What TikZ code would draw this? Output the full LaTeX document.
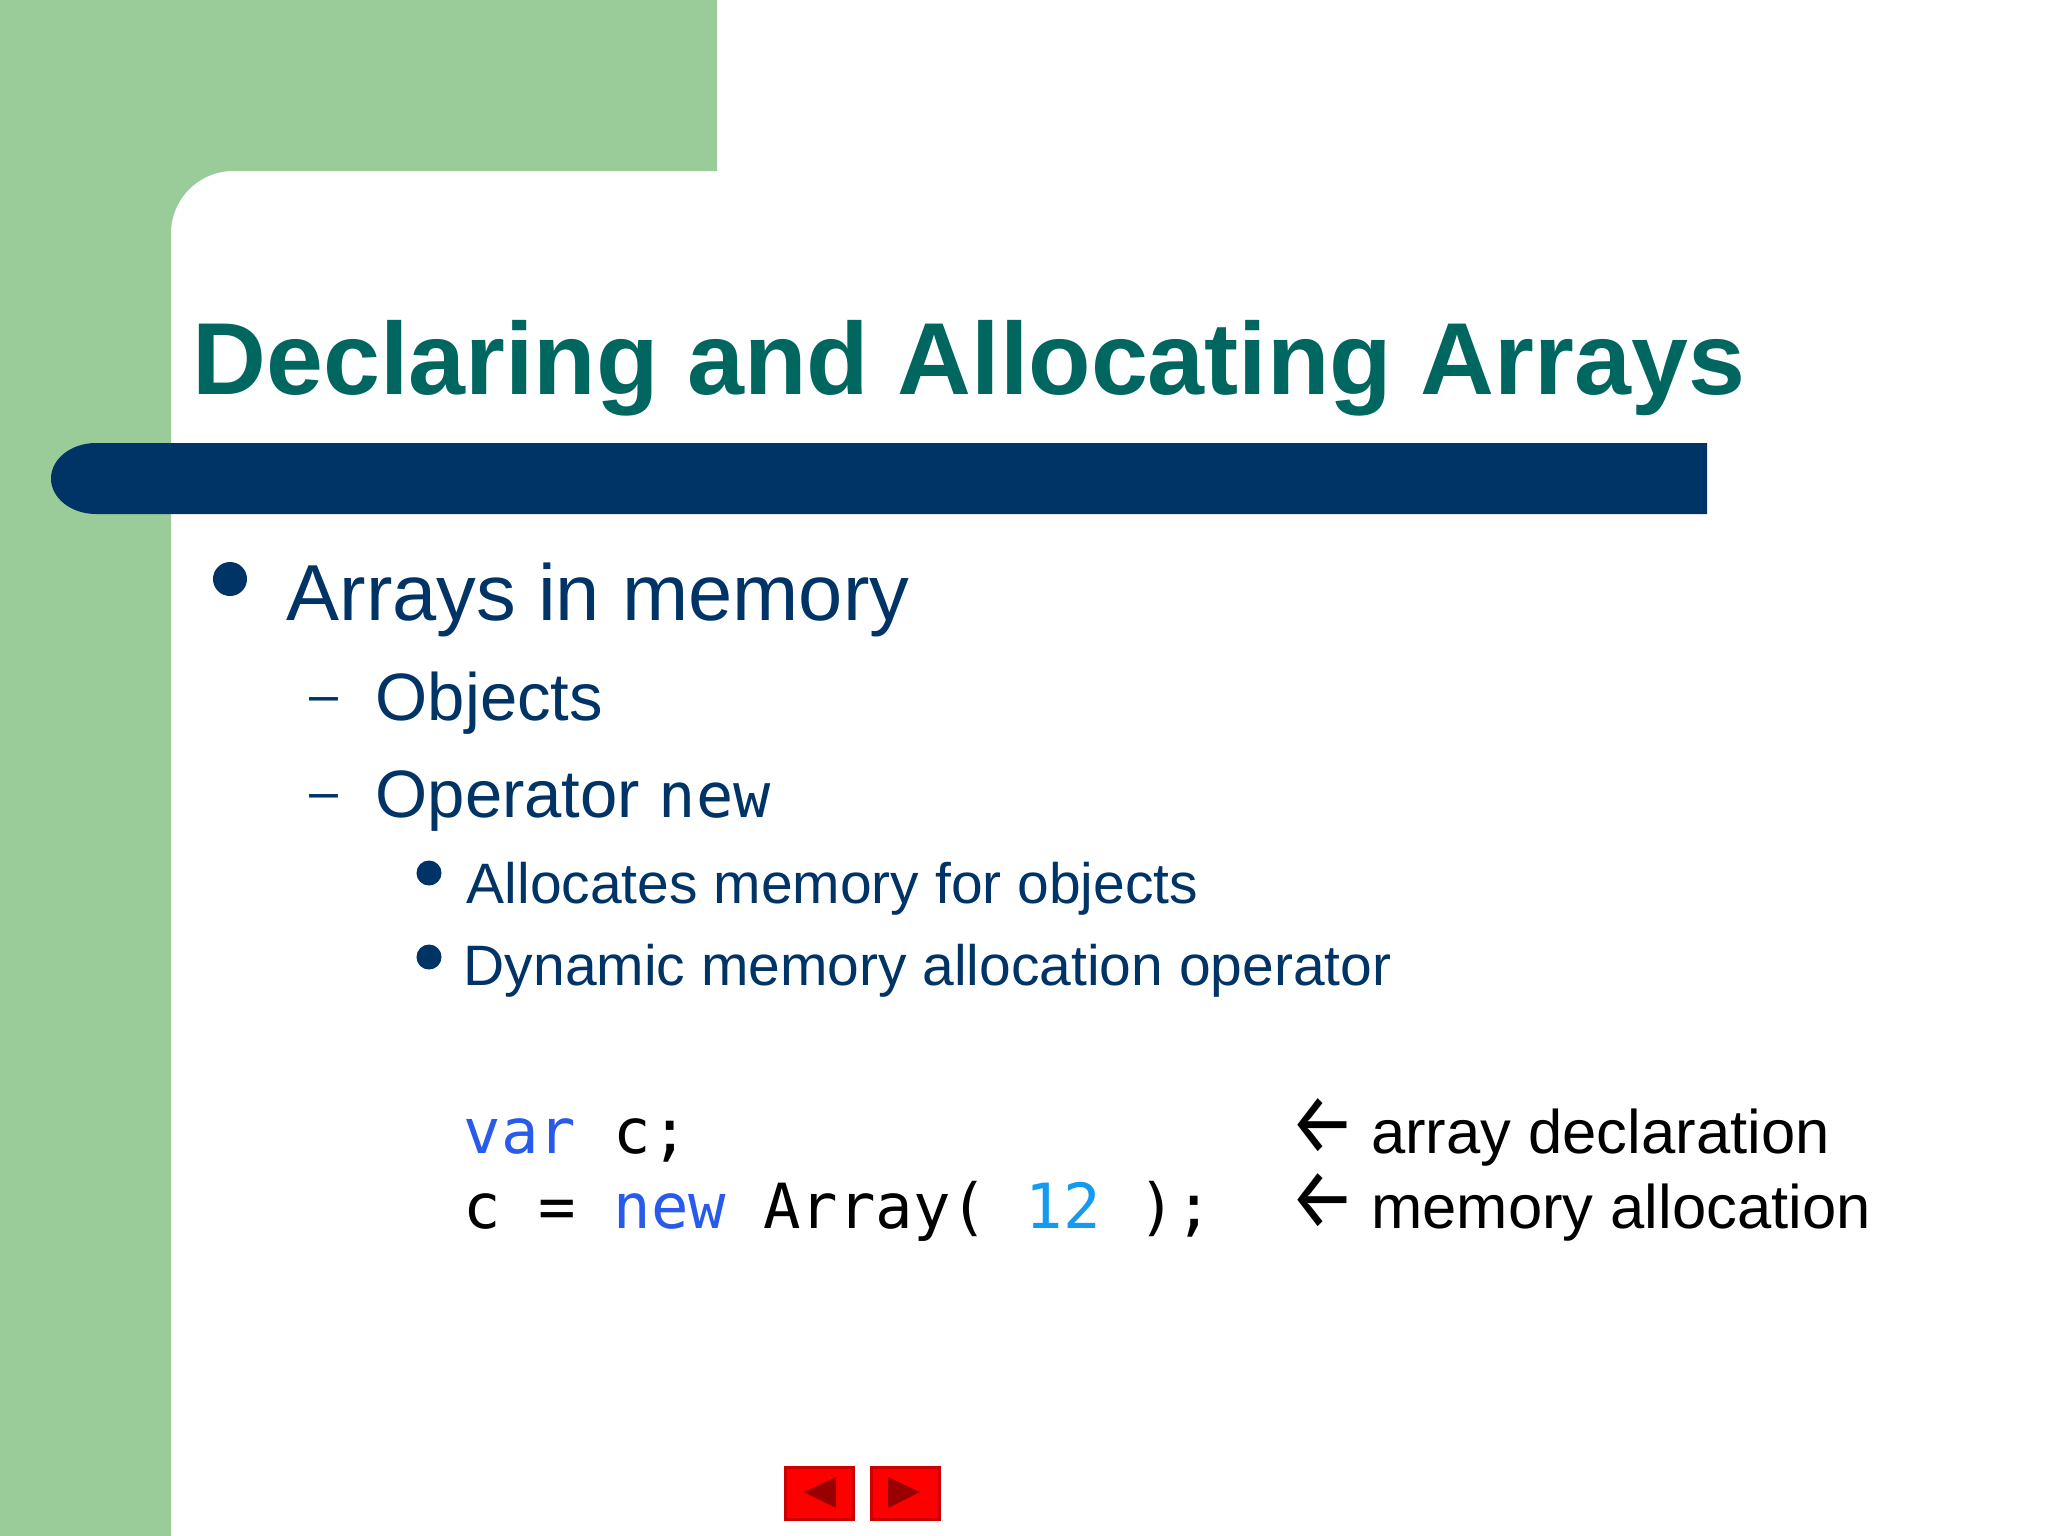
\documentclass[tikz,border=0pt]{standalone}
\usepackage{fontspec}
\setmainfont{Liberation Sans}
\newfontfamily\codefont{DejaVu Sans Mono}
\newfontfamily\arrowfont{Fira Sans}
\newcommand{\notearrow}{{\arrowfont\scalebox{1.2}[1.4]{←}}\hspace{-0.02cm}}
\definecolor{slidegreen}{HTML}{99CC99}
\definecolor{barnavy}{HTML}{003366}
\definecolor{titleteal}{HTML}{006660}
\definecolor{textnavy}{HTML}{003366}
\definecolor{codeblue}{RGB}{40,90,235}
\definecolor{codenum}{RGB}{20,155,240}
\definecolor{navred}{HTML}{FF0000}
\definecolor{navdark}{HTML}{990000}
\definecolor{navedge}{HTML}{CC0000}
\begin{document}
\begin{tikzpicture}[x=0.01cm,y=-0.01cm,
	txt/.style={anchor=base west,inner sep=0pt,text=textnavy},
	titletext/.style={txt,text=titleteal,font=\fontsize{29.1}{34}\selectfont\bfseries},
	lvlone/.style={txt,font=\fontsize{22.6}{27}\selectfont},
	lvltwo/.style={txt,font=\fontsize{19.06}{23}\selectfont},
	lvlthree/.style={txt,font=\fontsize{16.2}{20}\selectfont},
	dashmark/.style={txt,font=\fontsize{14.8}{18}\selectfont},
	code/.style={txt,text=black,font=\codefont\fontsize{17.7}{21}\selectfont},
	note/.style={txt,text=black,font=\fontsize{17.5}{21}\selectfont}]
	\useasboundingbox (0,0) rectangle (2048,1536);
	\fill[white] (0,0) rectangle (2048,1536);
	\fill[slidegreen] (0,0) -- (717,0) -- (717,171) -- (233,171) .. controls (199,171) and (171,199) .. (171,233) -- (171,1536) -- (0,1536) -- cycle;
	\fill[barnavy] (96,443) -- (1707,443) -- (1707,514) -- (96,514) .. controls (71,514) and (51,498) .. (51,478.5) .. controls (51,459) and (71,443) .. (96,443) -- cycle;
	\node[titletext] (title) at (192,394) {Declaring and Allocating Arrays};
	\fill[textnavy] (230,579) circle (0.17cm);
	\node[lvlone] (arrays) at (286,620) {Arrays in memory};
	\foreach \y in {712,809}
	\node[dashmark] at (309,\y) {–};
	\node[lvltwo] (objects) at (375,720) {Objects};
	\node[lvltwo] (operator) at (375,817) {Operator {\codefont\fontsize{17.6}{20}\selectfont new}};
	\foreach \y in {873,957}
	\fill[textnavy] (429,\y) circle (0.125cm);
	\node[lvlthree] (allocates) at (466,903) {Allocates memory for objects};
	\node[lvlthree] (dynamic) at (463,985) {Dynamic memory allocation operator};
	\node[code] (declline) at (463,1153) {{\color{codeblue}var} c;};
	\node[code] (allocline) at (463,1228) {c = {\color{codeblue}new} Array( {\color{codenum}12} );};
	\node[note] (declnote) at (1289,1153) {\notearrow\ array declaration};
	\node[note] (allocnote) at (1289,1228) {\notearrow\ memory allocation};
	\foreach \bx in {785,871}
	\draw[navedge,line width=0.03cm,fill=navred] (\bx,1467) rectangle (\bx+68,1519);
	\fill[navdark] (804,1492) -- (836,1477) -- (836,1508) -- cycle;
	\fill[navdark] (920,1492) -- (888,1477) -- (888,1508) -- cycle;
\end{tikzpicture}
\end{document}
